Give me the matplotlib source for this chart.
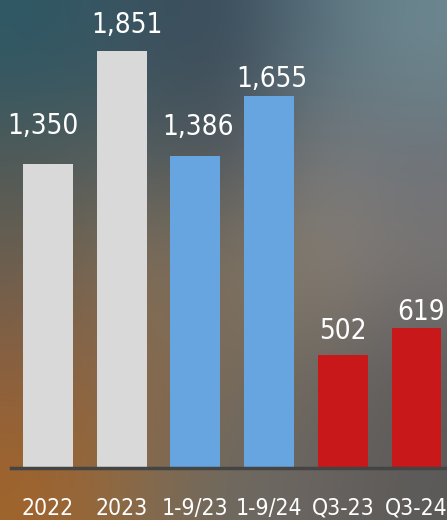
import numpy as np
import matplotlib
matplotlib.use("Agg")
import matplotlib.pyplot as plt
from matplotlib import font_manager as fm
from matplotlib.colors import to_rgb

# ── Data ───────────────────────────────────────────────────────────────
CATEGORIES = ["2022", "2023", "1-9/23", "1-9/24", "Q3-23", "Q3-24"]
VALUES = [1350, 1851, 1386, 1655, 502, 619]
VALUE_LABELS = ["1,350", "1,851", "1,386", "1,655", "502", "619"]
BAR_COLORS = ["#d9d9d9", "#d9d9d9", "#67a5e0", "#67a5e0", "#c91819", "#c91819"]
# small manual nudges of value labels (points), as in the original
LABEL_DX = [-4, 4, 2, 2, 0, 3]
LABEL_DY = [17, 9, 11, 2, 7, 2]

# ── Blurred photo backdrop (rough colour grid, top row first) ──────────
BG_GRID = [
    ["#2e5865", "#3b5461", "#3a4a58", "#56707c", "#6c8790"],
    ["#4f5a58", "#556060", "#4a525a", "#7a7b7c", "#6c7178"],
    ["#6a5e50", "#82705a", "#7b6e5d", "#8c8274", "#7c7775"],
    ["#8a6040", "#8a6a4a", "#776a5a", "#706a62", "#5e5d5e"],
    ["#a0642c", "#8a6a48", "#6c6a62", "#6a6460", "#5c5a58"],
]

# ── Font: look for a narrow face, else Roboto ──────────────────────────
narrow = [f for f in fm.fontManager.ttflist
          if (f.stretch in ("condensed", "semi-condensed", "extra-condensed")
              or "Narrow" in f.name or "Condensed" in f.name)
          and f.style == "normal" and f.weight in (400, "normal", "regular")]
if narrow:
    f0 = narrow[0]
    FONT = dict(family=f0.name, stretch=f0.stretch)
    VAL_SIZE, TICK_SIZE = 20, 16.5
else:
    FONT = dict(family="Roboto")
    VAL_SIZE, TICK_SIZE = 17, 15

W, H = 447, 520
fig = plt.figure(figsize=(W / 100, H / 100), dpi=100)

bg_ax = fig.add_axes([0, 0, 1, 1], zorder=0)
bg = np.array([[to_rgb(c) for c in row] for row in BG_GRID])
bg_ax.imshow(bg, extent=[0, 1, 0, 1], aspect="auto", interpolation="bicubic")
bg_ax.set_axis_off()

left, bottom = 11 / W, 52.5 / H
ax = fig.add_axes([left, bottom, 1 - left, 1 - bottom], zorder=1)
ax.patch.set_alpha(0)

x = np.arange(len(CATEGORIES))
ax.bar(x, VALUES, width=0.678, color=BAR_COLORS, zorder=2)

for xi, lab, v, dx, dy in zip(x, VALUE_LABELS, VALUES, LABEL_DX, LABEL_DY):
    ax.annotate(lab, (xi, v), xytext=(dx, dy), textcoords="offset points",
                ha="center", va="bottom", color="white", fontsize=VAL_SIZE, **FONT)

ax.set_xlim(-0.502, 5.414)
ax.set_ylim(0, 2080)
ax.set_xticks(x)
ax.set_xticklabels(CATEGORIES, color="white", fontsize=TICK_SIZE, **FONT)
ax.tick_params(axis="x", length=0, pad=21)
ax.set_yticks([])
for s in ["top", "right", "left"]:
    ax.spines[s].set_visible(False)
ax.spines["bottom"].set_color("#444444")
ax.spines["bottom"].set_linewidth(2.5)

fig.savefig("out.png", dpi=100)
